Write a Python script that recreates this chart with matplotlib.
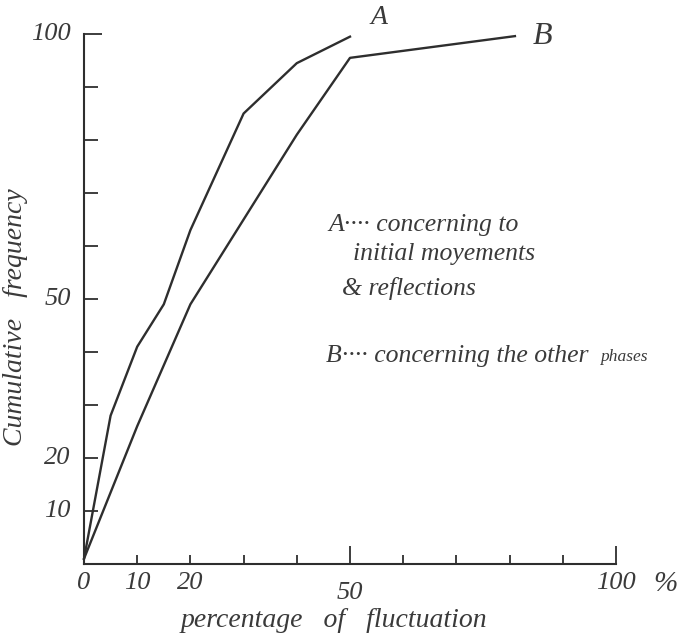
import matplotlib.pyplot as plt

# cumulative frequency curves, percentage of fluctuation on x
a_x = [0, 5, 10, 15, 20, 30, 40, 50]
a_y = [1, 28, 41, 49, 63, 85, 94.5, 99.5]
b_x = [0, 10, 20, 30, 40, 50, 81]
b_y = [1, 26, 49, 65, 81, 95.5, 99.6]

x_labels = [0, 10, 20, 50, 100]
y_labels = [10, 20, 50, 100]

ink = '#2e2e2e'
hand = dict(family='Liberation Serif', style='italic', color='#3a3a3a')

fig = plt.figure(figsize=(6.82, 6.36), dpi=100)
ax = fig.add_axes([84/682, 72/636, 532/682, 530/636])

ax.plot(a_x, a_y, color=ink, lw=1.7, clip_on=False)
ax.plot(b_x, b_y, color=ink, lw=1.7, clip_on=False)

ax.set_xlim(0, 100)
ax.set_ylim(0, 100)
for s in ['top', 'right']:
    ax.spines[s].set_visible(False)
for s in ['left', 'bottom']:
    ax.spines[s].set_color(ink)
    ax.spines[s].set_linewidth(1.5)

# long ticks at 50/100, short ones elsewhere
ax.set_xticks([50, 100])
ax.set_xticks([10, 20, 30, 40, 60, 70, 80, 90], minor=True)
ax.set_yticks([100])
ax.set_yticks([10, 20, 30, 40, 50, 60, 70, 80, 90], minor=True)
ax.tick_params(axis='x', which='major', direction='in', length=13, width=1.3, color=ink)
ax.tick_params(axis='x', which='minor', direction='in', length=6.5, width=1.3, color=ink)
ax.tick_params(axis='y', which='major', direction='in', length=13, width=1.3, color=ink)
ax.tick_params(axis='y', which='minor', direction='in', length=10, width=1.3, color=ink)
ax.set_xticklabels([])
ax.set_yticklabels([])

for v in x_labels:
    dy = -5.5 if v == 50 else -3.6
    ax.text(v, dy, str(v), ha='center', va='center', fontsize=19, **hand)
ax.text(109.3, -3.8, '%', ha='center', va='center', fontsize=21, **hand)
for v in y_labels:
    ax.text(-2.5, v, str(v), ha='right', va='center', fontsize=19, **hand)

ax.text(47, -10.6, 'percentage   of   fluctuation', ha='center', va='center', fontsize=20, **hand)
ax.text(-12.8, 46.5, 'Cumulative   frequency', ha='center', va='center', rotation=90, fontsize=20, **hand)

# curve names at their ends
ax.text(55.5, 103.2, 'A', ha='center', va='center', fontsize=20, **hand)
ax.text(86.2, 99.6, 'B', ha='center', va='center', fontsize=23, **hand)

ax.text(46, 64, 'A\u00b7\u00b7\u00b7\u00b7 concerning to', fontsize=18.5, va='center', **hand)
ax.text(50.5, 58.5, 'initial moyements', fontsize=18.5, va='center', **hand)
ax.text(48.5, 52, '& reflections', fontsize=18.5, va='center', **hand)
ax.text(45.5, 39.3, 'B\u00b7\u00b7\u00b7\u00b7 concerning the other', fontsize=18.5, va='center', **hand)
ax.text(97, 39.1, 'phases', fontsize=12.5, va='center', ha='left', **hand)

fig.savefig('out.png', dpi=100, facecolor='white')
